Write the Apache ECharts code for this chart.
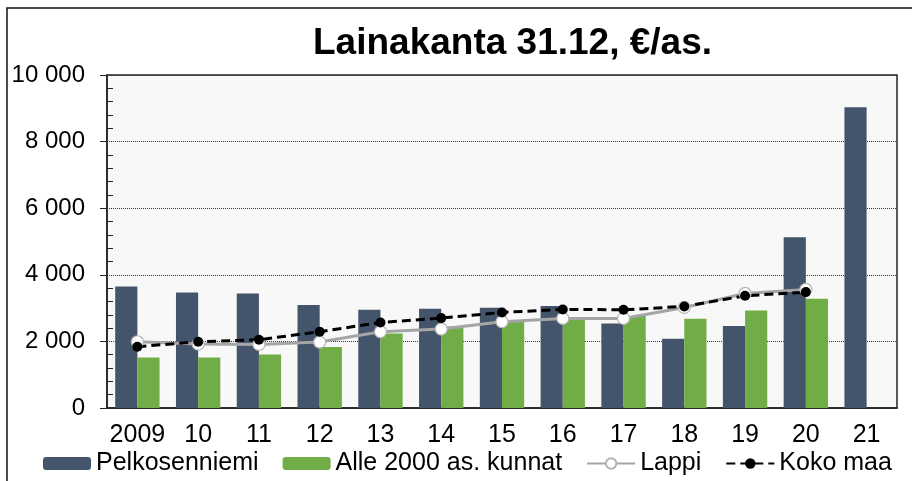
<!DOCTYPE html>
<html lang="fi">

<head>
    <meta charset="UTF-8">
    <title>Lainakanta 31.12, €/as.</title>
    <style>
        html, body { margin: 0; padding: 0; background: #fff; }
        .show { width: 912px; height: 481px; }
    </style>
</head>

<body>
    <div class="show"></div>
    <script src="https://cdn.jsdelivr.net/npm/echarts@6/dist/echarts.min.js"></script>
    <script>
        const years = ['2009', '10', '11', '12', '13', '14', '15', '16', '17', '18', '19', '20', '21']
        const pelkosenniemi = [3650, 3470, 3440, 3090, 2950, 2980, 3010, 3060, 2540, 2080, 2460, 5130, 9030]
        const alle2000 = [1520, 1520, 1610, 1830, 2240, 2450, 2600, 2720, 2760, 2680, 2930, 3280]
        const lappi = [1990, 1920, 1910, 1980, 2290, 2370, 2590, 2690, 2690, 3020, 3440, 3560]
        const kokoMaa = [1840, 1990, 2050, 2290, 2570, 2700, 2870, 2960, 2950, 3050, 3370, 3480]
        const yTicks = [0, 2000, 4000, 6000, 8000, 10000]

        const font = "'Liberation Sans', Arial, sans-serif"
        const myChart = echarts.init(document.querySelector('.show'))

        let option = {
            backgroundColor: '#fff',
            animation: false,
            textStyle: { fontFamily: font },
            // outer frame of the chart area
            graphic: [{
                type: 'rect',
                shape: { x: 7, y: 8, width: 940, height: 520 },
                style: { fill: 'none', stroke: '#111', lineWidth: 1.5 },
                silent: true
            }],
            title: {
                text: 'Lainakanta 31.12, €/as.',
                left: 313,
                top: 25,
                padding: 0,
                textStyle: { fontFamily: font, fontSize: 37, fontWeight: 'bold', color: '#000' }
            },
            legend: {
                left: 43,
                top: 451,
                padding: 0,
                itemGap: 24,
                itemWidth: 48,
                itemHeight: 13,
                textStyle: { fontFamily: font, fontSize: 25, color: '#000' },
                data: ['Pelkosenniemi', 'Alle 2000 as. kunnat', 'Lappi', 'Koko maa']
            },
            grid: {
                left: 107,
                right: 15,
                top: 75,
                bottom: 73,
                show: true,
                backgroundColor: '#f8f8f8',
                borderColor: '#222',
                borderWidth: 1.5
            },
            xAxis: [{
                type: 'category',
                data: years,
                axisLine: { lineStyle: { color: '#222', width: 1.5 } },
                axisTick: { length: 8, lineStyle: { color: '#222' } },
                axisLabel: { color: '#000', fontSize: 25, margin: 15, interval: 0 }
            }, {
                // inner half of the crossing category ticks
                type: 'category',
                position: 'bottom',
                data: years,
                axisLine: { show: false },
                axisTick: { inside: true, length: 6, lineStyle: { color: '#222' } },
                axisLabel: { show: false }
            }],
            yAxis: [{
                type: 'value',
                min: yTicks[0],
                max: yTicks[yTicks.length - 1],
                interval: 2000,
                axisLine: { show: true, lineStyle: { color: '#222', width: 1.5 } },
                axisTick: { show: true, length: 7, lineStyle: { color: '#222' } },
                splitLine: { lineStyle: { color: '#333', type: 'dotted', width: 1 } },
                axisLabel: {
                    color: '#000',
                    fontSize: 24,
                    margin: 22,
                    formatter: function (v) {
                        return String(v).replace(/\B(?=(\d{3})+(?!\d))/g, ' ')
                    }
                }
            }, {
                // minor ticks pointing into the plot
                type: 'value',
                position: 'left',
                min: yTicks[0],
                max: yTicks[yTicks.length - 1],
                interval: 2000,
                axisLine: { show: false },
                axisTick: { show: false, inside: true },
                minorTick: { show: true, splitNumber: 5, length: 6, lineStyle: { color: '#222' } },
                splitLine: { show: false },
                axisLabel: { show: false }
            }],
            series: [{
                name: 'Pelkosenniemi',
                type: 'bar',
                barGap: 0,
                barCategoryGap: '27%',
                itemStyle: { color: '#44546a' },
                data: pelkosenniemi
            }, {
                name: 'Alle 2000 as. kunnat',
                type: 'bar',
                barGap: 0,
                barCategoryGap: '27%',
                itemStyle: { color: '#70ad47' },
                data: alle2000
            }, {
                name: 'Lappi',
                type: 'line',
                symbol: 'circle',
                symbolSize: 12,
                lineStyle: { color: '#a5a5a5', width: 3 },
                itemStyle: { color: '#fff', borderColor: '#b5b5b5', borderWidth: 1.2 },
                data: lappi
            }, {
                name: 'Koko maa',
                type: 'line',
                symbol: 'circle',
                symbolSize: 10,
                lineStyle: { color: '#000', width: 3, type: [9, 5] },
                itemStyle: { color: '#000' },
                data: kokoMaa
            }]
        }

        myChart.setOption(option)
    </script>
</body>

</html>
